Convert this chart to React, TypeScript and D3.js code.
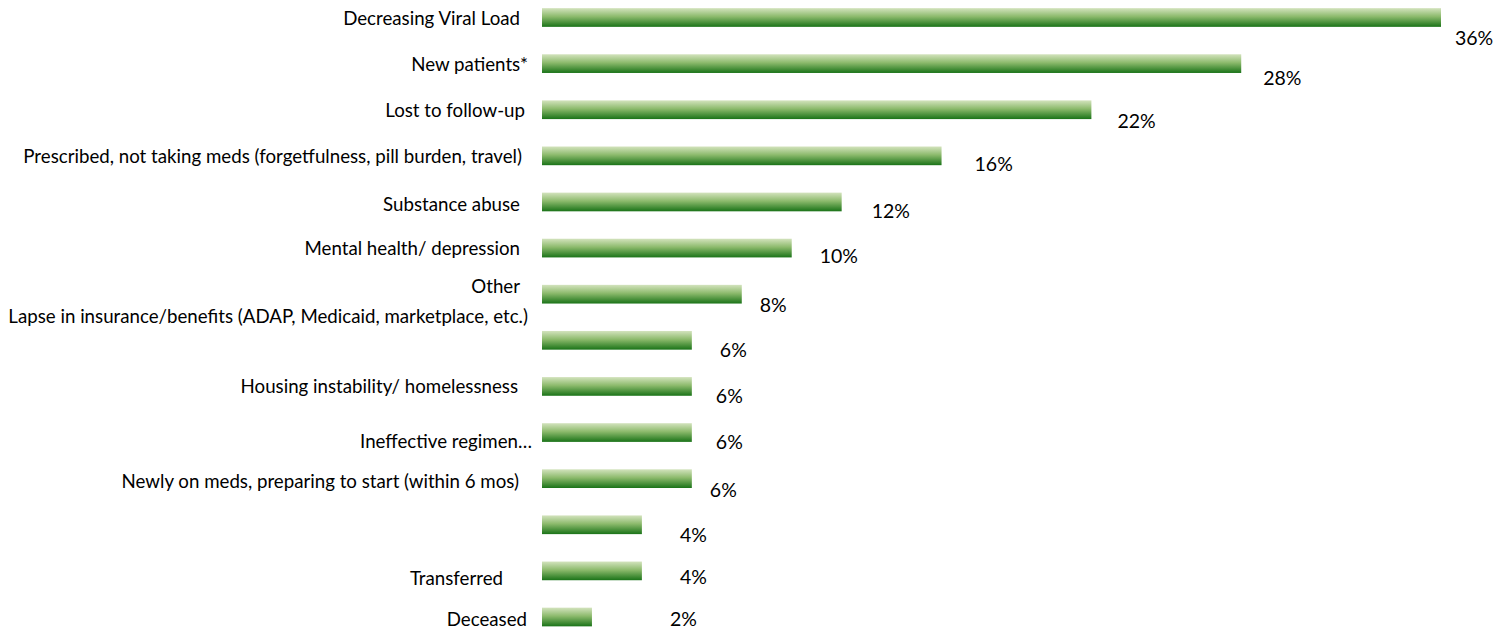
import React from "react";
import * as d3 from "d3";

const categories = [
  "Decreasing Viral Load",
  "New patients*",
  "Lost to follow-up",
  "Prescribed, not taking meds (forgetfulness, pill burden, travel)",
  "Substance abuse",
  "Mental health/ depression",
  "Other",
  "Lapse in insurance/benefits (ADAP, Medicaid, marketplace, etc.)",
  "Housing instability/ homelessness",
  "Ineffective regimen…",
  "Newly on meds, preparing to start (within 6 mos)",
  "",
  "Transferred",
  "Deceased",
];
const values = [36, 28, 22, 16, 12, 10, 8, 6, 6, 6, 6, 4, 4, 2];

// layout nudges for text placement (px), as in the original slide
const catNudgeX = [-2, 6, 3, 0, -2, -2, -2, 6, -4, 10, -3, 0, -19, 5];
const catNudgeY = [0, 0, 0, 0, 2, 0, -8, -24, 0, 8, 2, 0, 7, 2];
const valNudgeX = [14, 22, 26, 33, 30, 28, 18, 28, 24, 24, 18, 38, 38, 78];
const valNudgeY = [19.5, 14, 11, 8, 9, 7, 10, 9, 9, 9, 11, 10, 6, 1.5];

const W = 1505;
const H = 630;
const FONT = "Lato, 'Open Sans', sans-serif";

export default function App() {
  const keys = categories.map((c, i) => `${i}`);
  const x = d3.scaleLinear().domain([0, 36]).range([542, 1441]);
  const y = d3.scalePoint<string>().domain(keys).range([17.5, 617]);
  const barH = 18.7;
  const labelRight = 522;

  return (
    <svg
      width={W}
      height={H}
      style={{ position: "absolute", left: 0, top: 0, background: "#fff" }}
      fontFamily={FONT}
    >
      <defs>
        <linearGradient id="barGrad" x1="0" y1="0" x2="0" y2="1">
          <stop offset="0%" stopColor="#d3e3bd" />
          <stop offset="45%" stopColor="#8cba6c" />
          <stop offset="100%" stopColor="#1a7318" />
        </linearGradient>
      </defs>
      {values.map((v, i) => {
        const cy = y(keys[i]) as number;
        return (
          <g key={i}>
            <rect
              x={x(0)}
              y={cy - barH / 2}
              width={x(v) - x(0)}
              height={barH}
              fill="url(#barGrad)"
            />
            <text
              x={labelRight + catNudgeX[i]}
              y={cy + catNudgeY[i]}
              textAnchor="end"
              dominantBaseline="central"
              fontSize={18.7}
              fill="#000"
            >
              {categories[i]}
            </text>
            <text
              x={x(v) + valNudgeX[i]}
              y={cy + valNudgeY[i]}
              textAnchor="start"
              dominantBaseline="central"
              fontSize={19.5}
              fill="#000"
            >
              {`${v}%`}
            </text>
          </g>
        );
      })}
    </svg>
  );
}
